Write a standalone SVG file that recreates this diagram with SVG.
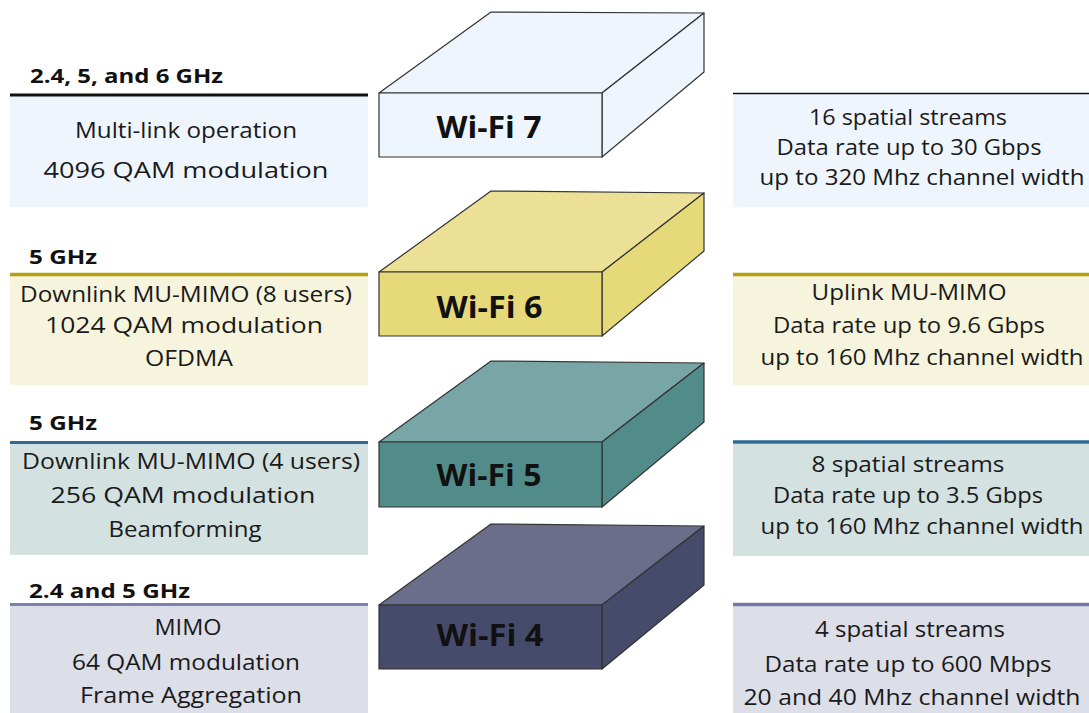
<svg xmlns="http://www.w3.org/2000/svg" width="1089" height="713" viewBox="0 0 1089 713">
<style>
.hdr{font-family:"Open Sans","Liberation Sans",sans-serif;font-weight:700;font-size:19.5px;fill:#111}
.body{font-family:"Open Sans","Liberation Sans",sans-serif;font-size:21px;fill:#1a1a1a;text-anchor:middle}
.lbl{font-family:"Open Sans","Liberation Sans",sans-serif;font-weight:700;font-size:30px;fill:#111;text-anchor:middle}
.edge{stroke:#333;stroke-width:1.2;stroke-linejoin:round}
</style>
<rect width="1089" height="713" fill="#fff"/>

<g id="wifi7">
  <rect x="10" y="96" width="358" height="111" fill="#EEF5FD"/>
  <line x1="10" y1="95" x2="368" y2="95" stroke="#111" stroke-width="3"/>
  <text class="hdr" x="30" y="83" textLength="193" lengthAdjust="spacingAndGlyphs">2.4, 5, and 6 GHz</text>
  <text class="body" x="186" y="138" textLength="222" lengthAdjust="spacingAndGlyphs">Multi-link operation</text>
  <text class="body" x="186" y="178" textLength="285" lengthAdjust="spacingAndGlyphs">4096 QAM modulation</text>
  <polygon class="edge" points="379,93 491,12 704,13 602,93" fill="#EEF5FD"/>
  <polygon class="edge" points="602,93 704,13 704,72 602,157" fill="#EEF5FD"/>
  <rect class="edge" x="379" y="93" width="223" height="64" fill="#EEF5FD"/>
  <text class="lbl" x="489" y="138" textLength="105" lengthAdjust="spacingAndGlyphs">Wi-Fi 7</text>
  <rect x="733" y="94" width="356" height="113" fill="#EEF5FD"/>
  <line x1="733" y1="93.5" x2="1089" y2="93.5" stroke="#111" stroke-width="1.5"/>
  <text class="body" x="908" y="125" textLength="198" lengthAdjust="spacingAndGlyphs">16 spatial streams</text>
  <text class="body" x="909" y="155" textLength="265" lengthAdjust="spacingAndGlyphs">Data rate up to 30 Gbps</text>
  <text class="body" x="922" y="185" textLength="325" lengthAdjust="spacingAndGlyphs">up to 320 Mhz channel width</text>
</g>

<g id="wifi6">
  <rect x="10" y="276" width="358" height="109" fill="#F6F4DC"/>
  <line x1="10" y1="274.5" x2="368" y2="274.5" stroke="#B3A00E" stroke-width="3.5"/>
  <text class="hdr" x="29" y="264" textLength="68" lengthAdjust="spacingAndGlyphs">5 GHz</text>
  <text class="body" x="186" y="302" textLength="332" lengthAdjust="spacingAndGlyphs">Downlink MU-MIMO (8 users)</text>
  <text class="body" x="184" y="333" textLength="278" lengthAdjust="spacingAndGlyphs">1024 QAM modulation</text>
  <text class="body" x="189" y="366" textLength="88" lengthAdjust="spacingAndGlyphs">OFDMA</text>
  <polygon class="edge" points="379,272 491,191 704,193 602,272" fill="#EBE096"/>
  <polygon class="edge" points="602,272 704,193 704,251 602,336" fill="#E6D97A"/>
  <rect class="edge" x="379" y="272" width="223" height="64" fill="#E6D97A"/>
  <text class="lbl" x="489.5" y="318" textLength="106" lengthAdjust="spacingAndGlyphs">Wi-Fi 6</text>
  <rect x="733" y="276" width="356" height="109" fill="#F6F4DC"/>
  <line x1="733" y1="274.5" x2="1089" y2="274.5" stroke="#B3A00E" stroke-width="3.5"/>
  <text class="body" x="909" y="300" textLength="195" lengthAdjust="spacingAndGlyphs">Uplink MU-MIMO</text>
  <text class="body" x="909" y="333" textLength="272" lengthAdjust="spacingAndGlyphs">Data rate up to 9.6 Gbps</text>
  <text class="body" x="922" y="365" textLength="323" lengthAdjust="spacingAndGlyphs">up to 160 Mhz channel width</text>
</g>

<g id="wifi5">
  <rect x="10" y="444" width="358" height="111" fill="#D3E1E1"/>
  <line x1="10" y1="442.5" x2="368" y2="442.5" stroke="#2E6A94" stroke-width="3"/>
  <text class="hdr" x="29" y="430" textLength="68" lengthAdjust="spacingAndGlyphs">5 GHz</text>
  <text class="body" x="191" y="469" textLength="338" lengthAdjust="spacingAndGlyphs">Downlink  MU-MIMO (4 users)</text>
  <text class="body" x="183" y="503" textLength="265" lengthAdjust="spacingAndGlyphs">256 QAM modulation</text>
  <text class="body" x="185" y="537" textLength="153" lengthAdjust="spacingAndGlyphs">Beamforming</text>
  <polygon class="edge" points="379,442 491,361 704,363 602,442" fill="#78A5A5"/>
  <polygon class="edge" points="602,442 704,363 704,422 602,507" fill="#528C8A"/>
  <rect class="edge" x="379" y="442" width="223" height="65" fill="#528C8A"/>
  <text class="lbl" x="489" y="486" textLength="105" lengthAdjust="spacingAndGlyphs">Wi-Fi 5</text>
  <rect x="733" y="444" width="356" height="112" fill="#D3E1E1"/>
  <line x1="733" y1="442" x2="1089" y2="442" stroke="#2E6A94" stroke-width="3.5"/>
  <text class="body" x="908" y="472" textLength="193" lengthAdjust="spacingAndGlyphs">8 spatial streams</text>
  <text class="body" x="908" y="503" textLength="270" lengthAdjust="spacingAndGlyphs">Data rate up to 3.5 Gbps</text>
  <text class="body" x="922" y="534" textLength="323" lengthAdjust="spacingAndGlyphs">up to 160 Mhz channel width</text>
</g>

<g id="wifi4">
  <rect x="10" y="606" width="358" height="107" fill="#DCDEE8"/>
  <line x1="10" y1="604.5" x2="368" y2="604.5" stroke="#7C80AE" stroke-width="3"/>
  <text class="hdr" x="29" y="598" textLength="161" lengthAdjust="spacingAndGlyphs">2.4 and 5 GHz</text>
  <text class="body" x="188" y="635" textLength="67" lengthAdjust="spacingAndGlyphs">MIMO</text>
  <text class="body" x="186" y="670" textLength="228" lengthAdjust="spacingAndGlyphs">64 QAM modulation</text>
  <text class="body" x="191" y="703" textLength="222" lengthAdjust="spacingAndGlyphs">Frame Aggregation</text>
  <polygon class="edge" points="379,605 491,524 704,526 602,605" fill="#6A6E8A"/>
  <polygon class="edge" points="602,605 704,526 704,585 602,669" fill="#474B6B"/>
  <rect class="edge" x="379" y="605" width="223" height="64" fill="#474B6B"/>
  <text class="lbl" x="490" y="646" textLength="107" lengthAdjust="spacingAndGlyphs">Wi-Fi 4</text>
  <rect x="733" y="606" width="356" height="107" fill="#DCDEE8"/>
  <line x1="733" y1="604.5" x2="1089" y2="604.5" stroke="#7478A8" stroke-width="3.5"/>
  <text class="body" x="910" y="637" textLength="190" lengthAdjust="spacingAndGlyphs">4 spatial streams</text>
  <text class="body" x="908" y="672" textLength="287" lengthAdjust="spacingAndGlyphs">Data rate up to 600 Mbps</text>
  <text class="body" x="912" y="705" textLength="337" lengthAdjust="spacingAndGlyphs">20 and 40 Mhz channel width</text>
</g>
<g id="connectors"/>
</svg>
